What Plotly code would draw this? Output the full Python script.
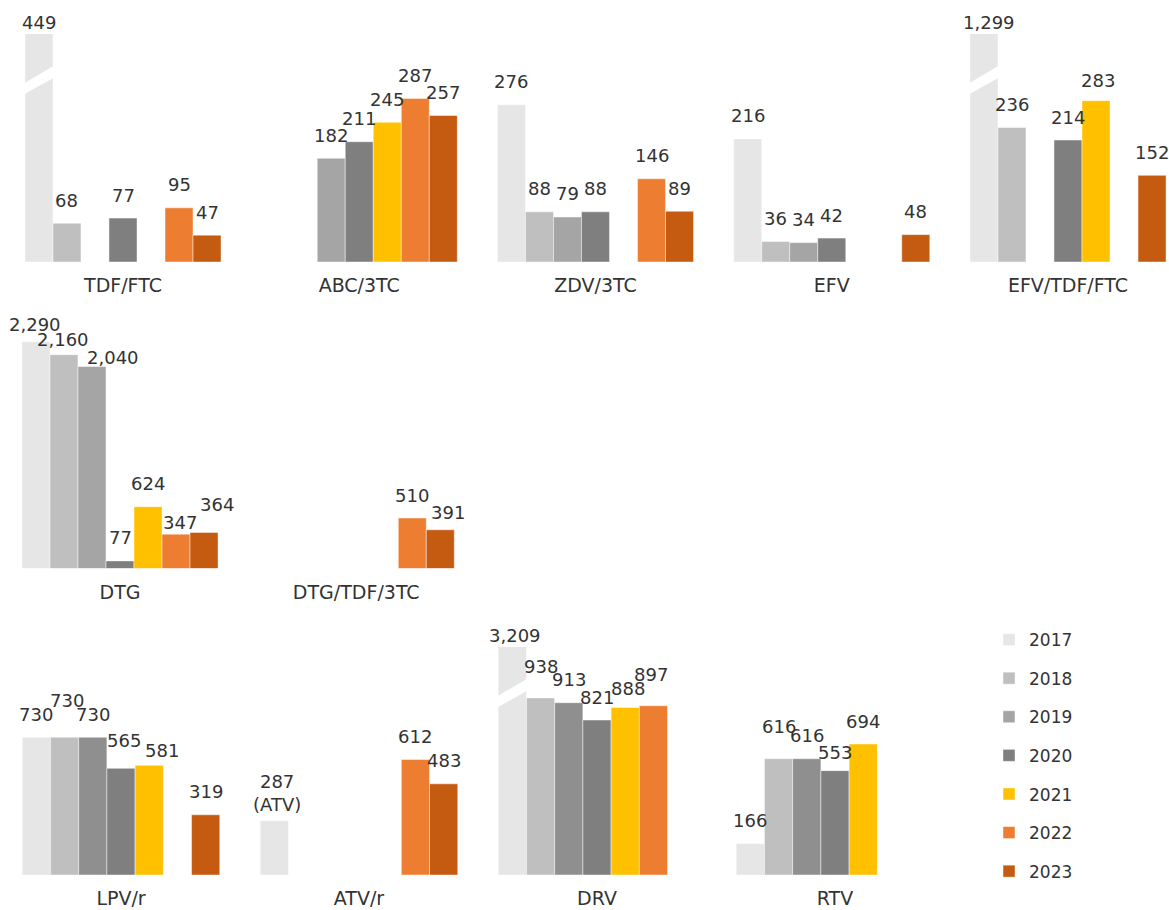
import plotly.graph_objects as go

# ---------------------------------------------------------------- data
YEARS = ["2017", "2018", "2019", "2020", "2021", "2022", "2023"]

ROW1_DRUGS = ["TDF/FTC", "ABC/3TC", "ZDV/3TC", "EFV", "EFV/TDF/FTC"]
ROW1_2017 = [449, None, 276, 216, 1299]
ROW1_2018 = [68, None, 88, 36, 236]
ROW1_2019 = [None, 182, 79, 34, None]
ROW1_2020 = [77, 211, 88, 42, 214]
ROW1_2021 = [None, 245, None, None, 283]
ROW1_2022 = [95, 287, 146, None, None]
ROW1_2023 = [47, 257, 89, 48, 152]

ROW2_DRUGS = ["DTG", "DTG/TDF/3TC"]
ROW2_2017 = [2290, None]
ROW2_2018 = [2160, None]
ROW2_2019 = [2040, None]
ROW2_2020 = [77, None]
ROW2_2021 = [624, None]
ROW2_2022 = [347, 510]
ROW2_2023 = [364, 391]

ROW3_DRUGS = ["LPV/r", "ATV/r", "DRV", "RTV"]
ROW3_2017 = [730, 287, 3209, 166]
ROW3_2018 = [730, None, 938, 616]
ROW3_2019 = [730, None, 913, 616]
ROW3_2020 = [565, None, 821, 553]
ROW3_2021 = [581, None, 888, 694]
ROW3_2022 = [None, 612, 897, None]
ROW3_2023 = [319, 483, None, None]

# extra text shown under a value label
LABEL_NOTES = {("ATV/r", "2017"): "(ATV)"}

# ---------------------------------------------------------------- styling
COLORS = ["#E6E6E6", "#BFBFBF", "#A5A5A5", "#7F7F7F", "#FFC000", "#ED7D31", "#C55A11"]
ROW3_COLORS = ["#E6E6E6", "#BFBFBF", "#8F8F8F", "#7F7F7F", "#FFC000", "#ED7D31", "#C55A11"]
TEXT = "#333333"
FONT = "DejaVu Sans"
W, H = 1169, 910
BARGAP = 0.17
SLOT = (1 - BARGAP) / len(YEARS)

# pixel layout per row: baseline, top of clipped region, px per category, first centre
ROWS = [
    dict(drugs=ROW1_DRUGS,
         series=[ROW1_2017, ROW1_2018, ROW1_2019, ROW1_2020, ROW1_2021, ROW1_2022, ROW1_2023],
         colors=COLORS, cap=400, base=262, top=34, step=236.25, first=123),
    dict(drugs=ROW2_DRUGS,
         series=[ROW2_2017, ROW2_2018, ROW2_2019, ROW2_2020, ROW2_2021, ROW2_2022, ROW2_2023],
         colors=COLORS, cap=2300, base=568.5, top=340.8, step=236.25, first=120),
    dict(drugs=ROW3_DRUGS,
         series=[ROW3_2017, ROW3_2018, ROW3_2019, ROW3_2020, ROW3_2021, ROW3_2022, ROW3_2023],
         colors=ROW3_COLORS, cap=1208, base=875, top=647, step=238, first=121),
]

# hand-placed label nudges: (dx px, gap px above bar top)
LABEL_NUDGE = {
    ("TDF/FTC", "2017"): (0, 4),
    ("EFV/TDF/FTC", "2017"): (5, 4),
    ("EFV/TDF/FTC", "2021"): (1.5, 13),
    ("DTG", "2017"): (-1, 10),
    ("DTG", "2018"): (-1, 8),
    ("DTG", "2019"): (21, 2),
    ("DTG", "2022"): (4, 5),
    ("DTG", "2023"): (13, 21),
    ("DTG/TDF/3TC", "2023"): (7.5, 10),
    ("LPV/r", "2018"): (2, 30),
    ("LPV/r", "2020"): (3, 21),
    ("LPV/r", "2021"): (12.5, 8),
    ("ATV/r", "2017"): (3, 9),
    ("DRV", "2017"): (3, 5),
    ("DRV", "2018"): (0, 24),
    ("DRV", "2021"): (2.5, 12),
    ("DRV", "2022"): (-2.5, 24),
    ("RTV", "2018"): (0, 25),
    ("RTV", "2020"): (0, 11),
}
DEFAULT_GAP = 16
BOX_PAD = 5.5  # distance from annotation box bottom to text baseline

fig = go.Figure()

for r, row in enumerate(ROWS):
    sfx = "" if r == 0 else str(r + 1)
    xref, yref = "x" + sfx, "y" + sfx
    for j, year in enumerate(YEARS):
        fig.add_trace(go.Bar(
            x=row["drugs"], y=row["series"][j], name=year,
            marker=dict(color=row["colors"][j],
                        line=dict(color="rgba(255,255,255,0.45)", width=1)),
            legendgroup=year, showlegend=(r == 0),
            xaxis=xref, yaxis=yref, hoverinfo="skip",
        ))

    cap = row["cap"]
    for j, year in enumerate(YEARS):
        for i, v in enumerate(row["series"][j]):
            if v is None:
                continue
            drug = row["drugs"][i]
            xc = i + (j - (len(YEARS) - 1) / 2) * SLOT
            dx, gap = LABEL_NUDGE.get((drug, year), (0, DEFAULT_GAP if v <= cap else 4))
            text = f"{v:,}"
            note = LABEL_NOTES.get((drug, year))
            if note:
                text += "<br>" + note
            fig.add_annotation(
                x=xc, y=min(v, cap), xref=xref, yref=yref, text=text,
                showarrow=False, xanchor="center", yanchor="bottom",
                xshift=dx, yshift=gap - BOX_PAD,
                font=dict(size=18, color=TEXT, family=FONT),
            )
            # white slanted gap marking a bar cut off at the top
            if v > cap:
                hw = SLOT / 2 * 1.15
                xl, xr = xc - hw, xc + hw
                fig.add_shape(
                    type="path", xref=xref, yref=yref, layer="above",
                    path=(f"M {xl},{cap * 0.732} L {xl},{cap * 0.781} "
                          f"L {xr},{cap * 0.864} L {xr},{cap * 0.811} Z"),
                    fillcolor="white", line=dict(width=0),
                )

    r0 = -row["first"] / row["step"]
    r1 = r0 + W / row["step"]
    axis_x = dict(domain=[0, 1], range=[r0, r1], type="category",
                  categoryorder="array", categoryarray=row["drugs"],
                  showgrid=False, zeroline=False, showline=False, ticks="",
                  tickfont=dict(size=19, color=TEXT, family=FONT),
                  ticklabelstandoff=10, anchor=yref, fixedrange=True)
    axis_y = dict(domain=[1 - row["base"] / H, 1 - row["top"] / H],
                  range=[0, cap], visible=False, anchor=xref, fixedrange=True)
    fig.update_layout(**{"xaxis" + sfx: axis_x, "yaxis" + sfx: axis_y})

fig.update_layout(
    width=W, height=H,
    margin=dict(l=0, r=0, t=0, b=0),
    paper_bgcolor="white", plot_bgcolor="white",
    font=dict(family=FONT, color=TEXT),
    barmode="group", bargap=BARGAP, bargroupgap=0,
    legend=dict(x=989 / W, y=1 - 622 / H, xanchor="left", yanchor="top",
                font=dict(size=17, color=TEXT, family=FONT),
                tracegroupgap=13.5, itemwidth=30, bgcolor="rgba(0,0,0,0)"),
)

fig.write_html("out.html")
